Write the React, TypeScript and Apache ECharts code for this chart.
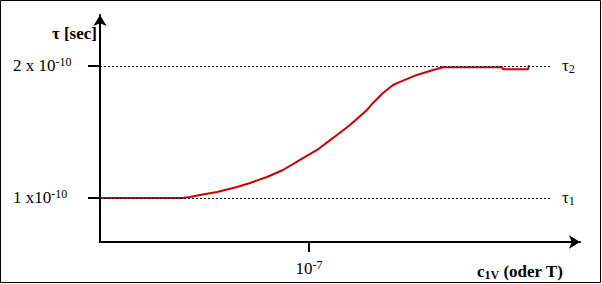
import { useEffect, useRef } from "react";
import * as echarts from "echarts";

// x: log10 of c1V, y: tau in units of 1e-10 s
const logC = [-9, -8.215, -8.139, -8.043, -7.88, -7.689, -7.565, -7.402, -7.249, -7.086, -6.923, -6.77, -6.608, -6.445, -6.388, -6.292, -6.196, -6.129, -5.967, -5.813, -5.718, -5.651, -5.153, -5.144, -4.904, -4.895];
const tau = [1, 1, 1.008, 1.023, 1.045, 1.083, 1.114, 1.159, 1.212, 1.288, 1.364, 1.455, 1.553, 1.667, 1.72, 1.795, 1.856, 1.879, 1.932, 1.97, 1.99, 1.99, 1.99, 1.975, 1.975, 2.005];

const xTicks = [-7];
const xTickBase = ["10"];
const xTickExp = ["-7"];
const yTicks = [1, 2];
const yTickBase = ["1 x10", "2 x 10"];
const yTickExp = ["-10", "-10"];
const refValues = [1, 2];
const refNames = ["1", "2"];

const X_MIN = -9;
const X_MAX = -4.407;
const Y_MIN = 0.6667;
const Y_MAX = 2.386;
const REF_END = -4.694;

const FONT = "'Liberation Serif', 'Times New Roman', serif";

export default function App() {
  const ref = useRef<HTMLDivElement>(null);
  useEffect(() => {
    if (!ref.current) return;
    const chart = echarts.init(ref.current, undefined, { renderer: "svg" });
    const supRich = {
      m: { fontSize: 17, fontFamily: FONT, color: "#000", lineHeight: 19 },
      s: { fontSize: 12, fontFamily: FONT, color: "#000", lineHeight: 12, verticalAlign: "top" },
    };
    const subRich = {
      t: { fontSize: 17, fontFamily: FONT, color: "#000", lineHeight: 19 },
      s: { fontSize: 12, fontFamily: FONT, color: "#000", lineHeight: 12, verticalAlign: "bottom" },
    };
    const option: any = {
      animation: false,
      grid: { left: 100, right: 22, top: 15, bottom: 42 },
      xAxis: {
        type: "value",
        min: X_MIN,
        max: X_MAX,
        axisLine: {
          show: true,
          onZero: false,
          symbol: ["none", "arrow"],
          symbolSize: [10, 11],
          lineStyle: { color: "#000", width: 2 },
        },
        axisTick: { show: true, customValues: xTicks, length: 10, lineStyle: { color: "#000", width: 2 } },
        axisLabel: {
          show: true,
          customValues: xTicks,
          margin: 17,
          formatter: (v: number) => {
            const i = xTicks.indexOf(v);
            return i < 0 ? "" : `{m|${xTickBase[i]}}{s|${xTickExp[i]}}`;
          },
          rich: supRich,
        },
        splitLine: { show: false },
      },
      yAxis: {
        type: "value",
        min: Y_MIN,
        max: Y_MAX,
        axisLine: {
          show: true,
          onZero: false,
          symbol: ["none", "arrow"],
          symbolSize: [10, 11],
          lineStyle: { color: "#000", width: 2 },
        },
        axisTick: { show: true, customValues: yTicks, length: 12, lineStyle: { color: "#000", width: 2 } },
        axisLabel: {
          show: true,
          customValues: yTicks,
          margin: 87,
          align: "left",
          formatter: (v: number) => {
            const i = yTicks.indexOf(v);
            return i < 0 ? "" : `{m|${yTickBase[i]}}{s|${yTickExp[i]}}`;
          },
          rich: supRich,
        },
        splitLine: { show: false },
      },
      graphic: [
        {
          type: "rect",
          shape: { x: 0.5, y: 0.5, width: 600, height: 282 },
          style: { fill: "none", stroke: "#000", lineWidth: 1 },
          silent: true,
        },
        {
          type: "text",
          x: 97,
          y: 33,
          style: {
            text: "τ [sec]",
            font: `bold 17px ${FONT}`,
            fill: "#000",
            align: "right",
            verticalAlign: "middle",
          },
        },
        {
          type: "text",
          x: 477,
          y: 271,
          style: {
            text: "{c|c}{s|1V}{c| (oder T)}",
            fill: "#000",
            align: "left",
            verticalAlign: "middle",
            rich: {
              c: { fontSize: 17, fontFamily: FONT, fontWeight: "bold", lineHeight: 19, fill: "#000" },
              s: { fontSize: 12, fontFamily: FONT, fontWeight: "bold", lineHeight: 12, verticalAlign: "bottom", fill: "#000" },
            },
          },
        },
      ],
      series: [
        {
          type: "line",
          z: 1,
          data: [],
          markLine: {
            silent: true,
            symbol: "none",
            lineStyle: { type: [2, 2], color: "#000", width: 1 },
            data: refValues.map((v, i) => [
              { coord: [X_MIN, v] },
              {
                coord: [REF_END, v],
                label: {
                  show: true,
                  position: "end",
                  distance: 12,
                  formatter: `{t|τ}{s|${refNames[i]}}`,
                  rich: subRich,
                },
              },
            ]),
          },
        },
        {
          type: "line",
          z: 3,
          data: logC.map((x, i) => [x, tau[i]]),
          showSymbol: false,
          symbol: "none",
          lineStyle: { color: "#cc0000", width: 2 },
        },
      ],
    };
    chart.setOption(option);
    return () => chart.dispose();
  }, []);
  return <div ref={ref} style={{ position: "absolute", left: 0, top: 0, width: 602, height: 284 }} />;
}
